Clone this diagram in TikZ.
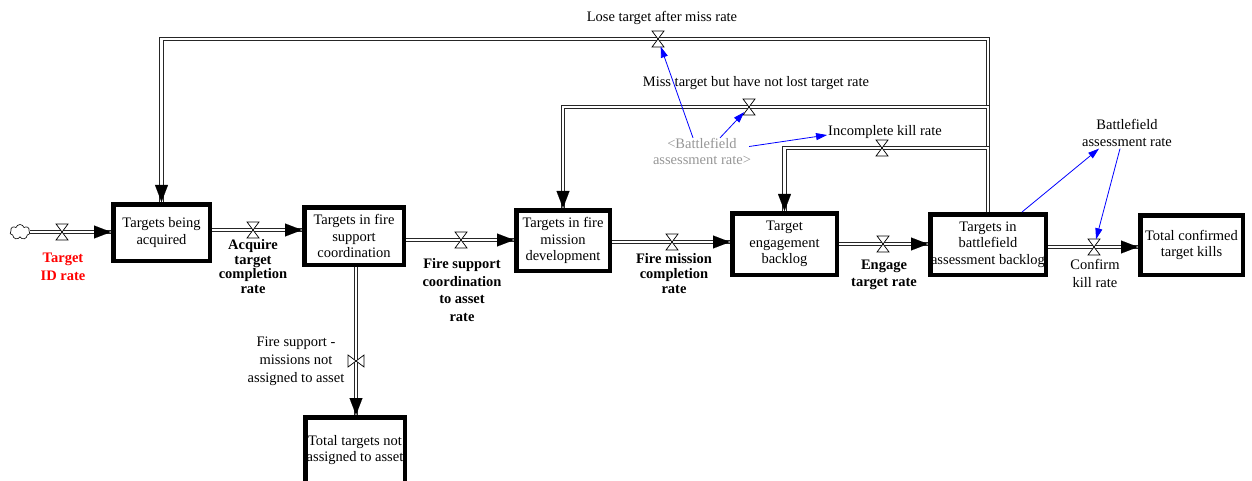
\documentclass[tikz,border=0pt]{standalone}
\usepackage{fontspec}
\setmainfont{Liberation Serif}
\usetikzlibrary{arrows.meta,shapes.symbols,calc}
\newcommand\dfont{\fontsize{14.5}{16.5}\selectfont}
\newcommand\dfontt{\fontsize{14.5}{14.5}\selectfont}
\newcommand\dfontw{\fontsize{14.5}{17.8}\selectfont}
\definecolor{refgray}{RGB}{150,150,150}
\definecolor{refblue}{RGB}{0,0,255}
\begin{document}
\begin{tikzpicture}[x=1pt,y=-1pt,
  stock/.style={draw, line width=4.5pt, inner sep=0pt, align=center, font=\dfont, fill=white},
  pipe/.style={draw=black!85, line width=1pt, double=white, double distance=2.8pt, line join=miter},
  head/.style={draw=white, line width=0.05pt, -{Triangle[color=black, fill=black, length=17pt, width=13pt]}},
  info/.style={draw=refblue, line width=0.8pt, -{Triangle[color=refblue, fill=refblue, length=11pt, width=7pt]}},
  lbl/.style={align=center, inner sep=0pt, font=\dfont},
  blbl/.style={align=center, inner sep=0pt, font=\dfont\bfseries},
  valveh/.pic={\draw[fill=white, line width=0.7pt, line join=miter] (-6,-8) -- (6,-8) -- (-6,8) -- (6,8) -- cycle;},
  valvev/.pic={\draw[fill=white, line width=0.7pt, line join=miter] (-8,-6) -- (-8,6) -- (8,-6) -- (8,6) -- cycle;}
]
\useasboundingbox (0,0) rectangle (1252,481);
\clip (0,0) rectangle (1252,481);

% stocks
\node[stock, minimum width=96.5pt, minimum height=56.5pt] (b1) at (161.5,232.5) {Targets being\\acquired};
\node[stock, minimum width=99.5pt, minimum height=57.5pt] (b2) at (354,236) {Targets in fire\\support\\coordination};
\node[stock, minimum width=93.5pt, minimum height=60.5pt] (b3) at (563,240.5) {Targets in fire\\mission\\development};
\node[stock, minimum width=104.5pt, minimum height=61.5pt] (b4) at (784.5,244) {Target\\engagement\\backlog};
\node[stock, minimum width=115.5pt, minimum height=60.5pt] (b5) at (988,244.5) {Targets in\\battlefield\\assessment backlog};
\node[stock, minimum width=102.5pt, minimum height=59.5pt] (b6) at (1191.5,245) {Total confirmed\\target kills};
\node[stock, minimum width=99.5pt, minimum height=65.5pt] (b7) at (355,450) {Total targets not\\assigned to asset};

% source cloud
\node[cloud, draw, cloud puffs=7, aspect=1.3, minimum width=20pt, minimum height=15pt, inner sep=0pt, line width=0.6pt, fill=white] (cl) at (20,232) {};

% valve positions
\coordinate (v0) at (62,232);
\coordinate (v1) at (253,230);
\coordinate (v2) at (461,240);
\coordinate (v3) at (672,242);
\coordinate (v4) at (883,244);
\coordinate (v5) at (1094,247);
\coordinate (v6) at (356,361);
\coordinate (vl) at (658,39);
\coordinate (vm) at (749,107);
\coordinate (vi) at (882,148);

% loops (drawn first)
\draw[pipe] (b5.north) |- (vl) -| (b1.north);
\draw[pipe] (b5.north) |- (vm) -| (b3.north);
\draw[pipe] (b5.north) |- (vi) -| (b4.north);
\draw[head] (b1.north |- vl) -- (b1.north);
\draw[head] (b3.north |- vm) -- (b3.north);
\draw[head] (b4.north |- vi) -- (b4.north);

% main flows
\draw[pipe] (cl.east |- v0) -- (b1.west |- v0);
\draw[head] (v0) -- (b1.west |- v0);
\draw[pipe] (b1.east |- v1) -- (b2.west |- v1);
\draw[head] (v1) -- (b2.west |- v1);
\draw[pipe] (b2.east |- v2) -- (b3.west |- v2);
\draw[head] (v2) -- (b3.west |- v2);
\draw[pipe] (b3.east |- v3) -- (b4.west |- v3);
\draw[head] (v3) -- (b4.west |- v3);
\draw[pipe] (b4.east |- v4) -- (b5.west |- v4);
\draw[head] (v4) -- (b5.west |- v4);
\draw[pipe] (b5.east |- v5) -- (b6.west |- v5);
\draw[head] (v5) -- (b6.west |- v5);
\draw[pipe] (b2.south -| v6) -- (b7.north -| v6);
\draw[head] (v6) -- (b7.north -| v6);

% valves
\foreach \v in {v0,v1,v2,v3,v4,v5,vl,vm,vi} { \pic at (\v) {valveh}; }
\pic at (v6) {valvev};

% labels
\node[blbl, text=red, font=\fontsize{14.5}{18}\selectfont\bfseries] (l0) at (63,267) {Target\\ID rate};
\node[blbl, font=\dfontt\bfseries] (l1) at (253,266.5) {Acquire\\target\\completion\\rate};
\node[blbl, font=\dfontw\bfseries] (l2) at (462,290) {Fire support\\coordination\\to asset\\rate};
\node[blbl, font=\fontsize{14.5}{15}\selectfont\bfseries] (l3) at (674,274) {Fire mission\\completion\\rate};
\node[blbl, font=\fontsize{14.5}{17}\selectfont\bfseries] (l4) at (884,274.5) {Engage\\target rate};
\node[lbl, font=\fontsize{14.5}{18}\selectfont] (l5) at (1095,273) {Confirm\\kill rate};
\node[lbl, font=\fontsize{14.5}{18}\selectfont] (l6) at (296,361) {Fire support -\\missions not\\assigned to asset};
\node[lbl] (ll) at (662,18) {Lose target after miss rate};
\node[lbl] (lm) at (756,83) {Miss target but have not lost target rate};
\node[lbl] (li) at (885,132) {Incomplete kill rate};
\node[lbl] (bar2) at (1127,133) {Battlefield\\assessment rate};
\node[lbl, text=refgray] (bar) at (702,151.5) {<Battlefield\\assessment rate>};

% information links
\draw[info, shorten >=8pt] ($(bar.north)+(-9,0)$) -- (vl);
\draw[info, shorten >=7pt] ($(bar.north)+(18,0)$) -- (vm);
\draw[info] ($(bar.east)+(-2,-5)$) -- ($(li.west)+(-1,3)$);
\draw[info] ($(b5.north)+(34,0)$) -- ($(bar2.south)+(-28,2)$);
\draw[info, shorten >=8pt] ($(bar2.south)+(-7,2)$) -- (v5);
\end{tikzpicture}
\end{document}
